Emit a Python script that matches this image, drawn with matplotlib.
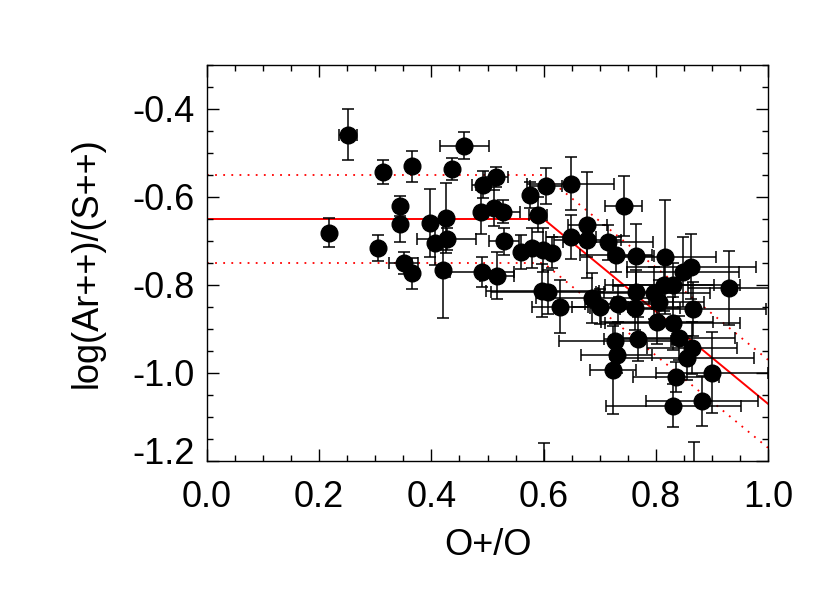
import matplotlib
matplotlib.use("Agg")
import matplotlib.pyplot as plt
from matplotlib.ticker import MultipleLocator
import matplotlib.transforms as mtransforms

plt.rcParams['font.family'] = ['Liberation Sans', 'DejaVu Sans']

# O+/O values
x = [0.251, 0.314, 0.365, 0.217, 0.344, 0.344, 0.305, 0.351, 0.366, 0.4375,
     0.459, 0.398, 0.426, 0.407, 0.427, 0.420,
     0.492, 0.516, 0.576, 0.604, 0.648, 0.489, 0.511, 0.528, 0.590, 0.530,
     0.559, 0.580, 0.599, 0.615, 0.490, 0.517, 0.598, 0.607, 0.629,
     0.678, 0.678, 0.649, 0.715, 0.729, 0.743, 0.764, 0.817, 0.863, 0.848,
     0.930, 0.687, 0.700, 0.733, 0.763, 0.764, 0.797, 0.806, 0.814, 0.830,
     0.802, 0.830, 0.867, 0.842, 0.855, 0.864, 0.727, 0.768, 0.730, 0.724,
     0.900, 0.836, 0.831, 0.882, 0.600, 0.868]
# log(Ar++)/(S++) values
y = [-0.458, -0.543, -0.530, -0.681, -0.621, -0.661, -0.716, -0.750, -0.773, -0.536,
     -0.483, -0.659, -0.648, -0.705, -0.695, -0.767,
     -0.572, -0.555, -0.595, -0.574, -0.570, -0.633, -0.625, -0.633, -0.640, -0.701,
     -0.725, -0.716, -0.720, -0.727, -0.770, -0.779, -0.813, -0.815, -0.849,
     -0.663, -0.697, -0.690, -0.703, -0.731, -0.621, -0.735, -0.736, -0.758, -0.771,
     -0.807, -0.830, -0.849, -0.843, -0.853, -0.815, -0.818, -0.838, -0.799, -0.799,
     -0.884, -0.887, -0.855, -0.920, -0.966, -0.943, -0.928, -0.922, -0.960, -0.993,
     -0.999, -1.009, -1.074, -1.064, -1.260, -1.250]
xerr = [0.016, 0.0, 0.0, 0.0, 0.0, 0.0, 0.0, 0.026, 0.0, 0.0,
        0.043, 0.0, 0.0, 0.0, 0.052, 0.0,
        0.02, 0.021, 0.0, 0.028, 0.077, 0.0, 0.0, 0.03, 0.016, 0.027,
        0.0, 0.0, 0.0, 0.0, 0.057, 0.03, 0.1, 0.1, 0.05,
        0.035, 0.06, 0.045, 0.08, 0.064, 0.033, 0.032, 0.09, 0.115, 0.10,
        0.072, 0.10, 0.05, 0.06, 0.08, 0.07, 0.1, 0.08, 0.09, 0.12,
        0.1, 0.12, 0.13, 0.1, 0.12, 0.08, 0.1, 0.06, 0.0625, 0.041,
        0.10, 0.076, 0.12, 0.10, 0.0, 0.0]
yerr = [0.058, 0.027, 0.035, 0.033, 0.023, 0.041, 0.030, 0.025, 0.035, 0.025,
        0.030, 0.077, 0.080, 0.050, 0.025, 0.107,
        0.03, 0.023, 0.03, 0.041, 0.06, 0.05, 0.04, 0.027, 0.04, 0.03,
        0.039, 0.045, 0.05, 0.035, 0.034, 0.053, 0.06, 0.05, 0.06,
        0.12, 0.04, 0.05, 0.04, 0.04, 0.068, 0.074, 0.13, 0.074, 0.08,
        0.085, 0.057, 0.04, 0.04, 0.05, 0.05, 0.06, 0.05, 0.06, 0.05,
        0.05, 0.06, 0.062, 0.05, 0.05, 0.06, 0.04, 0.05, 0.04, 0.10,
        0.093, 0.035, 0.048, 0.057, 0.10, 0.093]

# fitted relation and its +/- 0.1 dex envelope
fit_x = [0.0, 0.6, 1.0]
fit_y = [-0.65, -0.65, -1.07]
fit_hi = [-0.55, -0.55, -0.97]
fit_lo = [-0.75, -0.75, -1.17]

xticks = [0.0, 0.2, 0.4, 0.6, 0.8, 1.0]
yticks = [-1.2, -1.0, -0.8, -0.6, -0.4]

fig = plt.figure(figsize=(8.30, 5.93), dpi=100)
ax = fig.add_axes([207/830, 1-461/593, (768-207)/830, (461-65)/593])

ax.plot(fit_x, fit_y, color='red', lw=1.4, zorder=1)
ax.plot(fit_x, fit_hi, color='red', lw=1.3, ls=(0, (1, 3.5)), zorder=1)
ax.plot(fit_x, fit_lo, color='red', lw=1.3, ls=(0, (1, 3.5)), zorder=1)

ax.errorbar(x, y, xerr=xerr, yerr=yerr, fmt='none', ecolor='black',
            elinewidth=1.1, capsize=4.5, capthick=1.1, zorder=2)
ax.plot(x, y, 'o', color='black', ms=12, zorder=3)

ax.set_xlim(0.0, 1.0)
ax.set_ylim(-1.2, -0.3)
ax.set_xticks(xticks)
ax.set_xticklabels([f"{v:.1f}" for v in xticks])
ax.set_yticks(yticks)
ax.set_yticklabels([f"{v:.1f}" for v in yticks])
ax.xaxis.set_minor_locator(MultipleLocator(0.05))
ax.yaxis.set_minor_locator(MultipleLocator(0.05))
ax.tick_params(which='both', direction='in', top=True, right=True, width=1.0)
ax.tick_params(which='major', length=8.5)
ax.tick_params(which='minor', length=4.5)
ax.tick_params(axis='x', which='major', labelsize=26, pad=14)
ax.tick_params(axis='y', which='major', labelsize=26, pad=9)
for s in ax.spines.values():
    s.set_linewidth(1.0)

# shift lowest y label up slightly as in original
lbl = ax.get_yticklabels()[0]
lbl.set_transform(lbl.get_transform() + mtransforms.ScaledTranslation(0, 10/100, fig.dpi_scale_trans))

ax.set_xlabel("O+/O", fontsize=26, labelpad=9)
ax.set_ylabel("log(Ar++)/(S++)", fontsize=26, labelpad=20)

fig.savefig("out.png", dpi=100)
